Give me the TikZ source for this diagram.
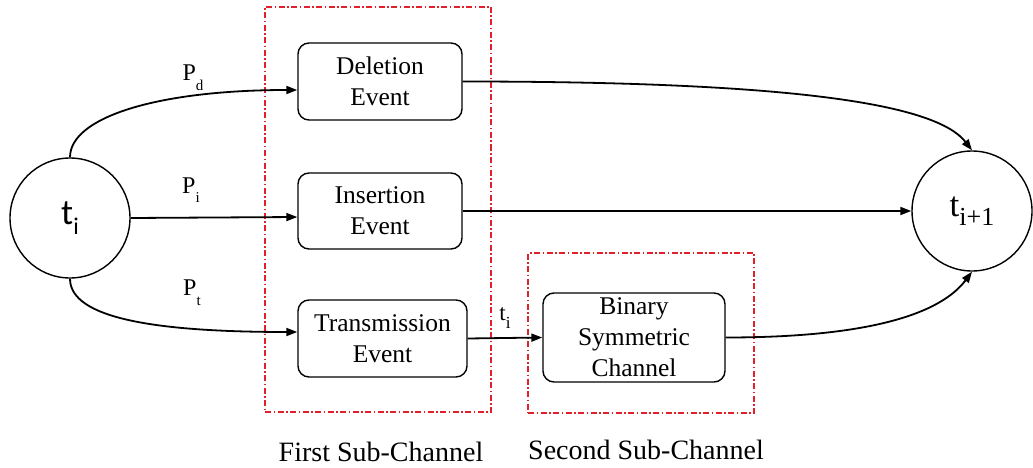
\documentclass[tikz,border=0pt]{standalone}
\usepackage{fontspec}
\setmainfont{Liberation Serif}
\newfontfamily\carlito{Carlito}
\usetikzlibrary{arrows.meta}

\begin{document}
\begin{tikzpicture}[x=1pt,y=-1pt,
  state/.style={circle,draw,line width=1.4pt,minimum size=120pt,inner sep=0pt},
  event/.style={draw,rounded corners=11pt,line width=1.4pt,align=center,
    inner sep=0pt,font=\rmfamily\fontsize{25.5}{31}\selectfont},
  chanbox/.style={draw={rgb,255:red,224;green,32;blue,42},line width=1.3pt,
    dash pattern=on 6pt off 2.5pt on 1.5pt off 2.5pt,inner sep=0pt},
  arr/.style={line width=1.8pt,-{Triangle[length=11pt,width=8pt]}},
  plabel/.style={font=\rmfamily\fontsize{24}{24}\selectfont,inner sep=0pt},
  chanlabel/.style={font=\rmfamily\fontsize{28}{28}\selectfont,inner sep=0pt}
]
\useasboundingbox (0,0) rectangle (1033,468);

% channel groups
\node[chanbox,minimum width=226pt,minimum height=405pt] (first) at (378,209.5) {};
\node[chanbox,minimum width=226pt,minimum height=160pt] (second) at (641,333) {};
\node[chanlabel] (firstlab) at (381,452) {First Sub-Channel};
\node[chanlabel] (secondlab) at (646,450) {Second Sub-Channel};

% states
\node[state,font=\carlito\fontsize{36}{36}\selectfont] (ti) at (70,218)
  {t\raisebox{-0.28em}{\fontsize{24}{24}\selectfont i}};
\node[state,font=\rmfamily\fontsize{35}{35}\selectfont] (tn) at (972,211)
  {t\raisebox{-0.25em}{\fontsize{26}{26}\selectfont i+1}};

% events
\node[event,minimum width=164pt,minimum height=77pt] (del) at (380,81.5) {Deletion\\Event};
\node[event,minimum width=164pt,minimum height=76pt] (ins) at (380,211) {Insertion\\Event};
\node[event,minimum width=169pt,minimum height=77pt] (tra) at (382.5,338.5) {Transmission\\Event};
\node[event,minimum width=182pt,minimum height=89pt] (bsc) at (634,337.5) {Binary\\Symmetric\\Channel};

% branch probabilities
\node[plabel] (pd) at (193,78) {P\raisebox{-0.4em}{\fontsize{15}{15}\selectfont d}};
\node[plabel] (pi) at (191,190) {P\raisebox{-0.4em}{\fontsize{15}{15}\selectfont i}};
\node[plabel] (pt) at (192,293) {P\raisebox{-0.4em}{\fontsize{15}{15}\selectfont t}};
\node[plabel,font=\rmfamily\fontsize{23}{23}\selectfont] (tl) at (505,318)
  {t\raisebox{-0.35em}{\fontsize{17}{17}\selectfont i}};

% branches out of t_i
\coordinate (delin) at ([yshift=-8.5pt]del.west);
\coordinate (insin) at ([yshift=-6pt]ins.west);
\coordinate (train) at ([yshift=6.5pt]tra.west);
\draw[arr] (ti.north) .. controls +(0,-40) and +(-140,0) .. (delin);
\draw[arr] (ti.east) -- (insin);
\draw[arr] (ti.south) .. controls +(0,40) and +(-140,0) .. (train);

% into t_{i+1}
\draw[arr] (del.east) .. controls +(340,0) and +(-35,-45) .. (tn.north);
\draw[arr] (ins.east) -- (tn.west);
\draw[arr] (tra.east) -- (bsc.west);
\draw[arr] (bsc.east) .. controls +(150,0) and +(-30,40) .. (tn.south);
\end{tikzpicture}
\end{document}
